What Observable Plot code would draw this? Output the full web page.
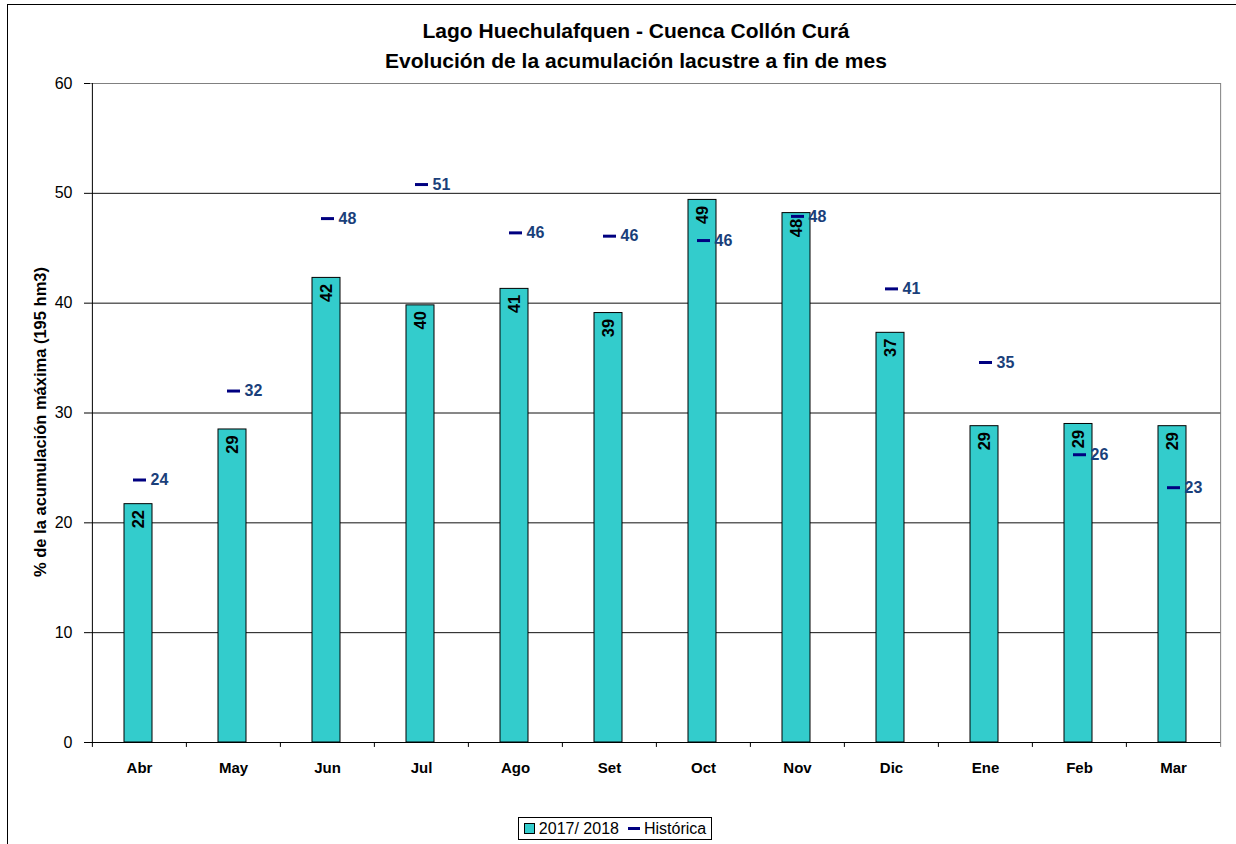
<!DOCTYPE html>
<html>
<head>
<meta charset="utf-8">
<script src="https://cdn.jsdelivr.net/npm/d3@7"></script>
<script src="https://cdn.jsdelivr.net/npm/@observablehq/plot@0.6"></script>
<style>
  html, body { margin: 0; padding: 0; background: #fff; }
  #wrap { position: relative; width: 1236px; height: 844px; overflow: hidden; font-family: "Liberation Sans", Arial, sans-serif; }
  #border { position: absolute; left: 7px; top: 4px; width: 1260px; height: 900px; border: 1px solid #000; box-sizing: border-box; }
  #title { position: absolute; left: 286px; width: 700px; top: 16px; text-align: center; font-weight: bold; font-size: 21px; line-height: 30px; color: #000; }
  #chart { position: absolute; left: 0; top: 70px; }
  #legend { position: absolute; left: 518px; top: 817px; width: 194px; height: 23px; border: 1px solid #000; box-sizing: border-box; background: #fff; font-size: 16px; display: flex; align-items: center; justify-content: center; gap: 3px; color: #000; }
  .sw { display: inline-block; width: 9px; height: 9px; background: #33CCCC; border: 1px solid #000; margin-right: 1px; }
  .ln { display: inline-block; width: 12px; height: 3px; background: #000080; margin-left: 6px; margin-right: 1px; }
</style>
</head>
<body>
<div id="wrap">
  <div id="border"></div>
  <div id="title">Lago Huechulafquen - Cuenca Collón Curá<br>Evolución de la acumulación lacustre a fin de mes</div>
  <div id="chart"></div>
  <div id="legend"><span class="sw"></span><span>2017/ 2018</span><span class="ln"></span><span>Histórica</span></div>
</div>
<script>
const months = ["Abr","May","Jun","Jul","Ago","Set","Oct","Nov","Dic","Ene","Feb","Mar"];
const actual = [21.7, 28.5, 42.3, 39.8, 41.3, 39.1, 49.4, 48.2, 37.3, 28.8, 29.0, 28.8];
const historica = [23.9, 32.0, 47.7, 50.8, 46.4, 46.1, 45.7, 47.9, 41.3, 34.6, 26.2, 23.2];
const yTicks = [0, 10, 20, 30, 40, 50, 60];
const yLabel = "% de la acumulación máxima (195 hm3)";

const data = months.map((m, i) => ({month: m, actual: actual[i], hist: historica[i]}));

const W = 1236, H = 730;
const mL = 90, mR = 15, mT = 13, mB = 58;
const step = (W - mL - mR) / months.length;

const dash = { draw(ctx) { ctx.rect(-6.5, -1.5, 13, 3); } };

const chart = Plot.plot({
  width: W, height: H,
  marginLeft: mL, marginRight: mR, marginTop: mT, marginBottom: mB,
  style: { fontFamily: "Liberation Sans, Arial, sans-serif", fontSize: "16px", background: "transparent", color: "#000" },
  x: { type: "band", domain: months, padding: 0, label: null },
  y: { domain: [0, 60], label: null },
  marks: [
    Plot.ruleY(yTicks.filter(t => t > 0 && t < 60), { stroke: "#111", strokeWidth: 1 }),
    Plot.ruleY([60], { stroke: "#808080", strokeWidth: 1 }),
    Plot.barY(data, { x: "month", y: "actual", fill: "#33CCCC", stroke: "#000", strokeWidth: 1, insetLeft: 32, insetRight: 34 }),
    Plot.ruleY([0], { stroke: "#000", strokeWidth: 1 }),
    Plot.ruleX(months, { x: d => d, dx: -step / 2, y1: -0.45, y2: 0, stroke: "#000" }),
    Plot.ruleX([months[0]], { x: d => d, dx: -step / 2, y1: 0, y2: 60, stroke: "#000" }),
    Plot.ruleX([months[months.length - 1]], { x: d => d, dx: step / 2, y1: -0.45, y2: 60, stroke: "#808080" }),
    Plot.axisY({ ticks: yTicks, tickSize: 6, tickPadding: 12, fontSize: 16, label: null }),
    Plot.axisX({ tickSize: 0, tickPadding: 20, fontSize: 15, fontWeight: "bold", label: null }),
    Plot.text([yLabel], { frameAnchor: "left", textAnchor: "middle", dx: -50, dy: 9, rotate: -90, fontWeight: "bold", fontSize: 16.5, fill: "#000" }),
    Plot.text(data, { x: "month", y: "actual", text: d => String(Math.round(d.actual)), rotate: -90, dy: 15, dx: -1, fontWeight: "bold", fontSize: 16.5, fill: "#000" }),
    Plot.dot(data, { x: "month", y: "hist", symbol: dash, fill: "#000080", stroke: "none" }),
    Plot.text(data, { x: "month", y: "hist", text: d => String(Math.round(d.hist)), dx: 11, textAnchor: "start", fontWeight: "bold", fontSize: 16, fill: "#1A3F7A" })
  ]
});
document.getElementById("chart").appendChild(chart);
</script>
</body>
</html>
